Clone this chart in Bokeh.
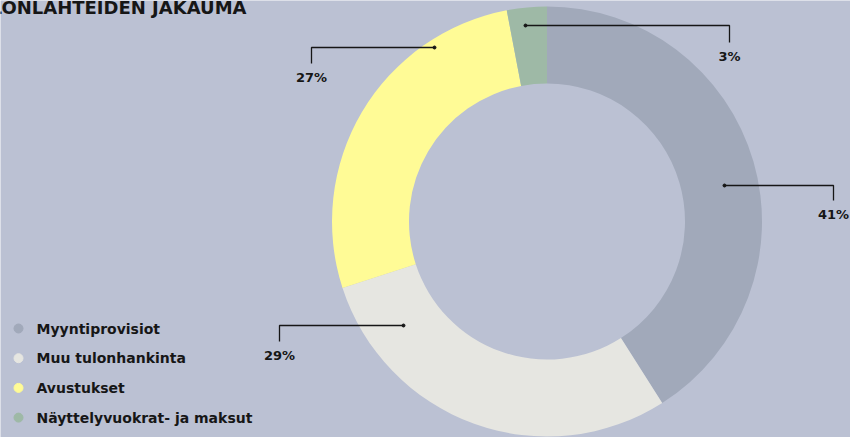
import math
from bokeh.plotting import figure
from bokeh.models import Range1d, ColumnDataSource
from bokeh.core.properties import value
from bokeh.embed import file_html
from bokeh.resources import INLINE

# ---- data ----
title = "TULONLÄHTEIDEN JAKAUMA"
categories = ["Myyntiprovisiot", "Muu tulonhankinta", "Avustukset", "Näyttelyvuokrat- ja maksut"]
shares = [41, 29, 27, 3]
pct_labels = ["41%", "29%", "27%", "3%"]

# ---- styles / layout ----
colors = ["#a1a9ba", "#e6e6e1", "#fffb96", "#9eb9a6"]
BG = "#bbc1d3"
INK = "#161616"
FONT = value("DejaVu Sans")
W, H = 850, 437


def Y(py):
    return H - py


cx, cy = 546.5, Y(221)
r_out, r_in = 215, 138

# callout anchors (pixel coords on page): anchor point, elbow x, drop length
callouts = [
    ((724, 185), 833, 15),
    ((403, 325), 279, 16),
    ((434, 47), 311, 16),
    ((525, 25), 729, 17),
]

p = figure(width=W, height=H, output_backend="svg", toolbar_location=None,
           x_range=Range1d(0, W), y_range=Range1d(0, H), min_border=0)
p.axis.visible = False
p.grid.visible = False
p.outline_line_color = None
p.background_fill_color = BG
p.border_fill_color = BG

total = float(sum(shares))
starts, ends = [], []
acc = 0.0
for s in shares:
    a0 = math.pi / 2 - 2 * math.pi * acc / total
    acc += s
    a1 = math.pi / 2 - 2 * math.pi * acc / total
    starts.append(a0)
    ends.append(a1)

src = ColumnDataSource(dict(cat=categories, share=shares, start=starts, end=ends, color=colors))
p.annular_wedge(x=cx, y=cy, inner_radius=r_in, outer_radius=r_out,
                start_angle="start", end_angle="end", direction="clock",
                fill_color="color", line_color=None, source=src)

# callouts
for (ax, ay), ex, drop in callouts:
    p.line([ax, ex, ex], [Y(ay), Y(ay), Y(ay + drop)], line_color=INK, line_width=1.3)
    p.scatter([ax], [Y(ay)], size=3, color=INK)
lx = [c[1] for c in callouts]
ly = [Y(c[0][1] + c[2] + 14) for c in callouts]
p.text(x=lx, y=ly, text=pct_labels, text_align="center", text_baseline="middle",
       text_font=FONT, text_font_style="bold", text_font_size="13px", text_color=INK)

# title (partly cropped at the page edge, as in the reference)
p.text(x=[246], y=[Y(7)], text=[title], text_align="right", text_baseline="alphabetic",
       text_font=FONT, text_font_style="bold", text_font_size="18px", text_color=INK)

# legend
leg_y = [Y(328 + 29.7 * i) for i in range(len(categories))]
p.scatter(x=[18] * len(categories), y=leg_y, size=9, color=colors)
p.text(x=[36] * len(categories), y=leg_y, text=categories, text_align="left",
       text_baseline="middle", text_font=FONT, text_font_style="bold",
       text_font_size="14px", text_color=INK)

open("out.html", "w").write(file_html(p, INLINE))
